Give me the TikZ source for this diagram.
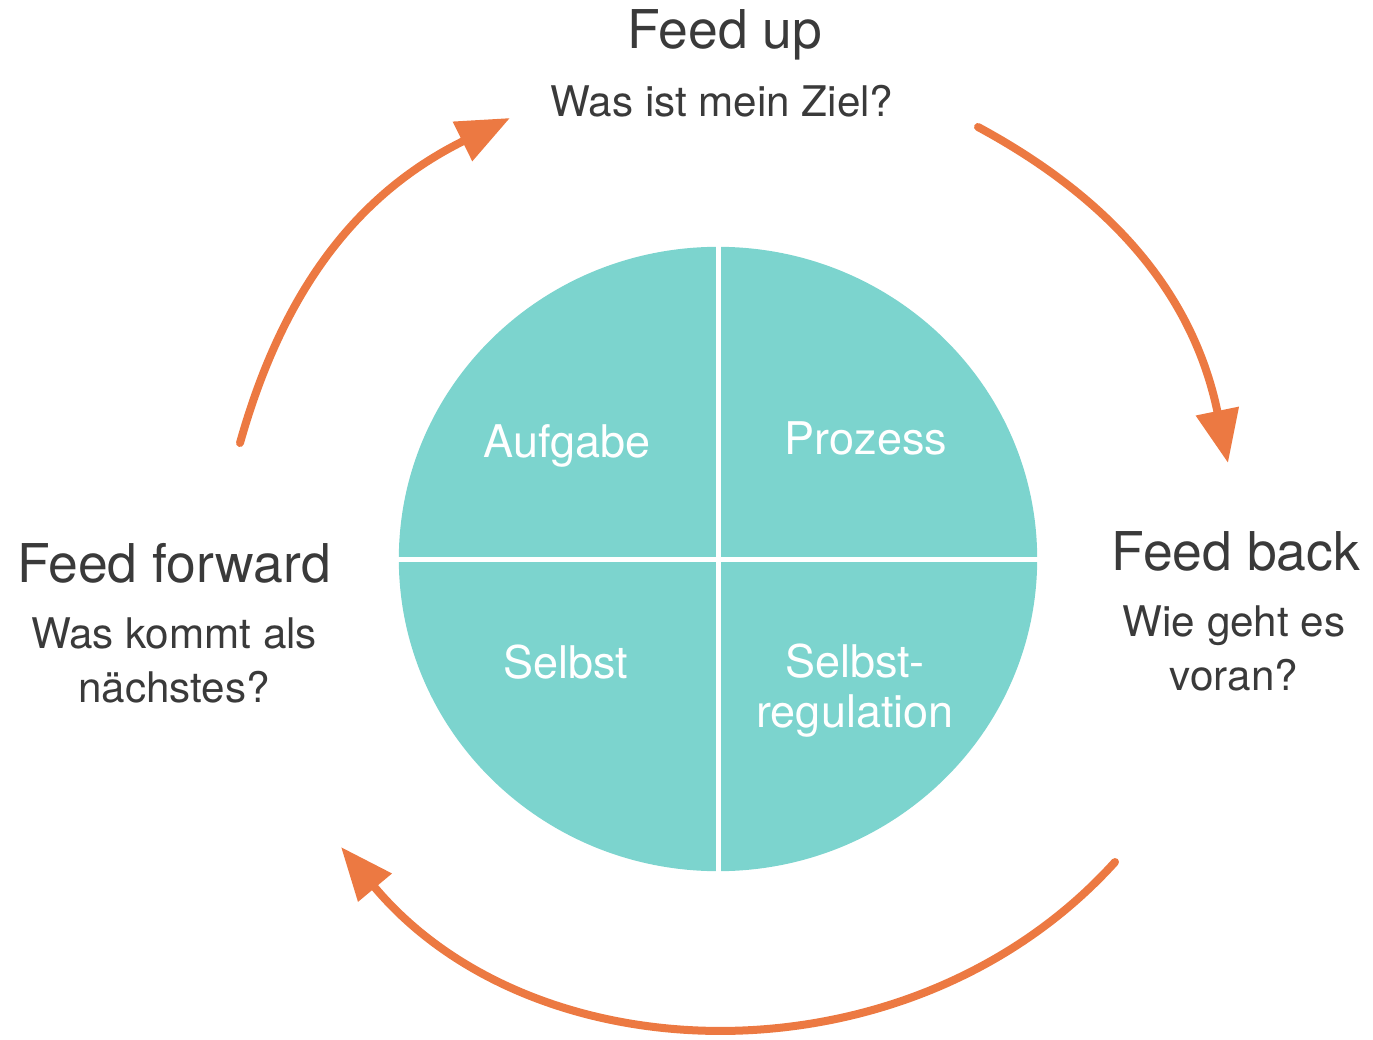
\documentclass[tikz,border=0pt]{standalone}
\usepackage{fontspec}
\setmainfont{TeX Gyre Heros}
\usetikzlibrary{arrows.meta,shapes.geometric}

\definecolor{discteal}{RGB}{124,212,206}
\definecolor{arroworange}{RGB}{236,121,66}
\definecolor{labelgray}{RGB}{58,58,58}

\begin{document}
\begin{tikzpicture}[x=0.01cm,y=0.01cm,
  cyclearrow/.style={draw=arroworange, line width=0.08cm, line cap=round,
    -{Triangle[length=0.53cm,width=0.42cm]}},
  heading/.style={anchor=base, text=labelgray, inner sep=0pt,
    font=\fontsize{15.2}{18}\selectfont},
  question/.style={anchor=base, text=labelgray, inner sep=0pt, align=center,
    font=\fontsize{12}{15.2}\selectfont},
  field/.style={anchor=base, text=white, inner sep=0pt, align=center,
    font=\fontsize{12.8}{14.2}\selectfont},
  divider/.style={draw=white, line width=0.05cm}
]
\useasboundingbox (0,0) rectangle (1373,-1040);

% central disc split into four fields
\node[ellipse, fill=discteal, inner sep=0pt,
      minimum width=6.38cm, minimum height=6.24cm] (disc) at (718,-559) {};
\draw[divider] (disc.north) -- (disc.south);
\draw[divider] (disc.west) -- (disc.east);

% multi-line labels are anchored at the baseline of their last line
\node[field] (task)    at (567,-457) {Aufgabe};
\node[field] (process) at (866,-455) {Prozess};
\node[field] (self)    at (566,-678) {Selbst};
\node[field] (selfreg) at (855,-727) {Selbst-\\regulation};

% the three feedback questions
\node[heading]  (upT)    at (725,-49)   {Feed up};
\node[question] (upQ)    at (722,-117)  {Was ist mein Ziel?};
\node[heading]  (backT)  at (1236,-570) {Feed back};
\node[question] (backQ)  at (1234,-690) {Wie geht es\\voran?};
\node[heading]  (fwdT)   at (174,-582)  {Feed forward};
\node[question] (fwdQ)   at (174,-702)  {Was kommt als\\nächstes?};

% arrow end points around the disc
\coordinate (upS)   at (240,-443);
\coordinate (upE)   at (510,-118);
\coordinate (backS) at (978,-127);
\coordinate (backE) at (1228,-463);
\coordinate (fwdS)  at (1115,-862);
\coordinate (fwdE)  at (341,-847);

\draw[cyclearrow] (upS) to[bend left=24] (upE);
\draw[cyclearrow] (backS) to[bend left=25] (backE);
\draw[cyclearrow] (fwdS) to[bend left=49] (fwdE);
\end{tikzpicture}
\end{document}
